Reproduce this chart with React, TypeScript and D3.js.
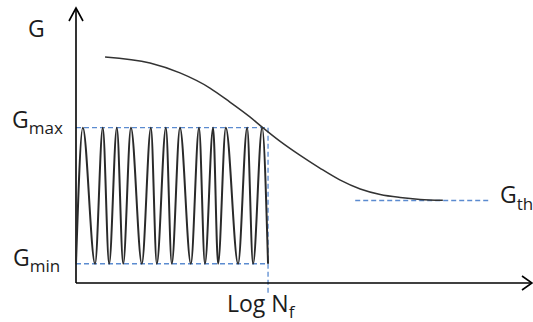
import React from 'react';
import * as d3 from 'd3';

const width = 533;
const height = 322;

// levels on the G axis (arbitrary units, 0..10)
const gMax = 5.65;
const gMin = 0.7;
const gTh = 3.0;
const logNf = 42.3;

// zig-zag loading: x of each peak (at gMax) and trough (at gMin), 0..100 units
const peaksX = [1.5, 5.9, 9.0, 12.1, 16.5, 19.8, 22.9, 27.1, 30.2, 33.0, 37.7, 41.0];
const troughsX = [4.2, 7.3, 10.4, 14.5, 17.8, 21.1, 25.3, 28.4, 31.3, 35.7, 39.0, 42.3];

// decay curve G(log N)
const curveX = [6.4, 16.3, 22.9, 29.5, 33.9, 38.3, 41.0, 44.9, 49.3, 53.7, 58.1, 62.6, 67.0, 71.4, 75.8, 80.8];
const curveG = [8.22, 8.0, 7.64, 7.09, 6.58, 6.04, 5.67, 5.16, 4.65, 4.18, 3.75, 3.42, 3.22, 3.11, 3.04, 3.01];

// threshold dashed segment
const thX = [61.5, 91.2];

const xScale = d3.scaleLinear().domain([0, 100]).range([76, 530]);
const yScale = d3.scaleLinear().domain([0, 10]).range([283, 8]);

const font = '"Open Sans", "Noto Sans", sans-serif';
const blue = '#5b8bd0';
const ink = '#1c1c1c';

export default function App() {
  const wavePts: [number, number][] = [[0, gMin]];
  peaksX.forEach((p, i) => {
    wavePts.push([p, gMax]);
    wavePts.push([troughsX[i], gMin]);
  });

  const line = d3
    .line<[number, number]>()
    .x(d => xScale(d[0]))
    .y(d => yScale(d[1]));

  const wavePath = line.curve(d3.curveMonotoneX)(wavePts) || '';
  const curvePath =
    d3
      .line<number>()
      .x(d => xScale(d))
      .y((d, i) => yScale(curveG[i]))
      .curve(d3.curveMonotoneX)(curveX) || '';

  const x0 = xScale(0);
  const y0 = yScale(0);
  const yTop = yScale(10);
  const xEnd = width;

  return (
    <svg
      width={width}
      height={height}
      style={{ position: 'absolute', left: 0, top: 0, background: '#fff' }}
    >
      {/* dashed guides */}
      <g stroke={blue} strokeWidth={1.3} strokeDasharray="5,3" fill="none">
        <line x1={x0} x2={xScale(logNf)} y1={yScale(gMax)} y2={yScale(gMax)} />
        <line x1={x0} x2={xScale(logNf)} y1={yScale(gMin)} y2={yScale(gMin)} />
        <line x1={xScale(logNf)} x2={xScale(logNf)} y1={yScale(gMax)} y2={y0 + 10} />
        <line x1={xScale(thX[0])} x2={xScale(thX[1])} y1={yScale(gTh)} y2={yScale(gTh)} />
      </g>

      {/* axes */}
      <g stroke="#000" strokeWidth={1.6} fill="none">
        <line x1={x0} x2={x0} y1={y0} y2={yTop} />
        <line x1={x0} x2={xEnd - 1} y1={y0} y2={y0} />
        <path d={`M${x0 - 7},${yTop + 13}L${x0},${yTop}L${x0 + 7},${yTop + 13}`} />
        <path d={`M${xEnd - 11},${y0 - 7}L${xEnd - 1},${y0}L${xEnd - 11},${y0 + 7}`} />
      </g>

      {/* loading wave and decay curve */}
      <path d={wavePath} fill="none" stroke="#2a2a2a" strokeWidth={2} />
      <path d={curvePath} fill="none" stroke="#333" strokeWidth={1.5} />

      {/* labels */}
      <g fontFamily={font} fill={ink}>
        <text x={28} y={37} fontSize={23}>G</text>
        <text x={12} y={yScale(gMax)} fontSize={23}>
          G<tspan fontSize={17} dy={6}>max</tspan>
        </text>
        <text x={13} y={yScale(gMin) + 2} fontSize={23}>
          G<tspan fontSize={17} dy={6}>min</tspan>
        </text>
        <text x={227} y={312} fontSize={23}>
          Log N<tspan fontSize={17} dy={6}>f</tspan>
        </text>
        <text x={500} y={yScale(gTh) + 2} fontSize={23}>
          G<tspan fontSize={17} dy={7}>th</tspan>
        </text>
      </g>
    </svg>
  );
}
